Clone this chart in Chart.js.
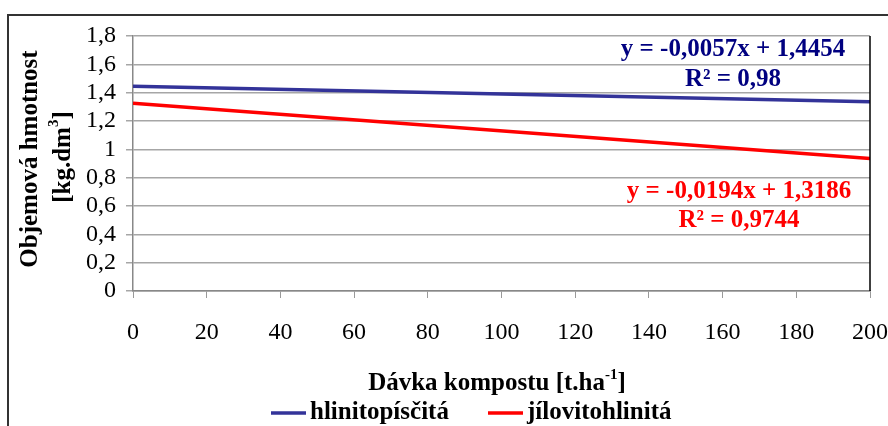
<!DOCTYPE html>
<html>
<head>
<meta charset="utf-8">
<script src="https://cdn.jsdelivr.net/npm/chart.js@4.4.1/dist/chart.umd.min.js"></script>
<style>
html,body{margin:0;padding:0;background:#fff;}
#wrap{position:relative;width:888px;height:426px;}
canvas{display:block;}
</style>
</head>
<body>
<div id="wrap"><canvas id="c" width="888" height="426"></canvas></div>
<script>
// Data
const doses = [0, 200];
const sandyLoam = [1.445, 1.335];
const clayLoam = [1.325, 0.935];
const seriesNames = ['hlinitopísčitá', 'jílovitohlinitá'];
const eqBlue = ['y = -0,0057x + 1,4454', 'R² = 0,98'];
const eqRed = ['y = -0,0194x + 1,3186', 'R² = 0,9744'];
const xTicks = [0, 20, 40, 60, 80, 100, 120, 140, 160, 180, 200];
const yTicks = [0, 0.2, 0.4, 0.6, 0.8, 1, 1.2, 1.4, 1.6, 1.8];

const BLUE = '#333399', BLUE_TXT = '#000080', RED = '#ff0000';
const SERIF = '"Liberation Serif", "Times New Roman", serif';
const BIG = 25, SUP = 15;

function fmt(v){ return String(Number(v.toFixed(1))).replace('.', ','); }

const decor = {
  id: 'decor',
  afterDraw(chart){
    const ctx = chart.ctx, a = chart.chartArea;
    ctx.save();
    // outer frame
    ctx.strokeStyle = '#333';
    ctx.lineWidth = 2;
    ctx.beginPath();
    ctx.moveTo(8, 430); ctx.lineTo(8, 15); ctx.lineTo(892, 15);
    ctx.stroke();
    // plot right border
    ctx.strokeStyle = '#000';
    ctx.lineWidth = 1.5;
    ctx.beginPath();
    ctx.moveTo(a.right, a.top); ctx.lineTo(a.right, a.bottom);
    ctx.stroke();

    // equations
    ctx.textAlign = 'center';
    ctx.textBaseline = 'middle';
    ctx.font = 'bold ' + BIG + 'px ' + SERIF;
    ctx.fillStyle = BLUE_TXT;
    ctx.fillText(eqBlue[0], 733, 50);
    ctx.fillText(eqBlue[1], 733, 80);
    ctx.fillStyle = RED;
    ctx.fillText(eqRed[0], 739, 192);
    ctx.fillText(eqRed[1], 739, 221);

    // x axis title with superscript
    ctx.fillStyle = '#000';
    ctx.font = 'bold ' + BIG + 'px ' + SERIF;
    const t1 = 'Dávka kompostu [t.ha', sup = '-1', t2 = ']';
    const w1 = ctx.measureText(t1).width, w3 = ctx.measureText(t2).width;
    ctx.font = 'bold ' + SUP + 'px ' + SERIF;
    const w2 = ctx.measureText(sup).width;
    const total = w1 + w2 + w3;
    let x0 = 497 - total / 2;
    ctx.textAlign = 'left';
    ctx.textBaseline = 'alphabetic';
    ctx.font = 'bold ' + BIG + 'px ' + SERIF;
    ctx.fillText(t1, x0, 390);
    ctx.font = 'bold ' + SUP + 'px ' + SERIF;
    ctx.fillText(sup, x0 + w1, 379);
    ctx.font = 'bold ' + BIG + 'px ' + SERIF;
    ctx.fillText(t2, x0 + w1 + w2, 390);

    // y axis title (rotated)
    ctx.save();
    ctx.translate(31, 159);
    ctx.rotate(-Math.PI / 2);
    ctx.textAlign = 'center';
    ctx.textBaseline = 'middle';
    ctx.font = 'bold ' + BIG + 'px ' + SERIF;
    ctx.fillText('Objemová hmotnost', 0, 0);
    ctx.restore();
    ctx.save();
    ctx.translate(64, 157);
    ctx.rotate(-Math.PI / 2);
    ctx.font = 'bold ' + BIG + 'px ' + SERIF;
    const u1 = '[kg.dm', u2 = '3', u3 = ']';
    const v1 = ctx.measureText(u1).width, v3 = ctx.measureText(u3).width;
    ctx.font = 'bold ' + SUP + 'px ' + SERIF;
    const v2 = ctx.measureText(u2).width;
    let s = -(v1 + v2 + v3) / 2;
    ctx.textAlign = 'left';
    ctx.textBaseline = 'middle';
    ctx.font = 'bold ' + BIG + 'px ' + SERIF;
    ctx.fillText(u1, s, 0);
    ctx.font = 'bold ' + SUP + 'px ' + SERIF;
    ctx.fillText(u2, s + v1, -10);
    ctx.font = 'bold ' + BIG + 'px ' + SERIF;
    ctx.fillText(u3, s + v1 + v2, 0);
    ctx.restore();

    // legend
    const ly = 413;
    ctx.lineWidth = 3.5;
    ctx.strokeStyle = BLUE;
    ctx.beginPath(); ctx.moveTo(271, ly); ctx.lineTo(306, ly); ctx.stroke();
    ctx.strokeStyle = RED;
    ctx.beginPath(); ctx.moveTo(488, ly); ctx.lineTo(523, ly); ctx.stroke();
    ctx.fillStyle = '#000';
    ctx.font = 'bold ' + BIG + 'px ' + SERIF;
    ctx.textAlign = 'left';
    ctx.textBaseline = 'middle';
    ctx.fillText(seriesNames[0], 310, ly);
    ctx.fillText(seriesNames[1], 527, ly);
    ctx.restore();
  }
};

new Chart(document.getElementById('c'), {
  type: 'line',
  data: {
    datasets: [
      { label: seriesNames[0], data: doses.map((d, i) => ({x: d, y: sandyLoam[i]})),
        borderColor: BLUE, borderWidth: 3.5, pointRadius: 0, fill: false, tension: 0 },
      { label: seriesNames[1], data: doses.map((d, i) => ({x: d, y: clayLoam[i]})),
        borderColor: RED, borderWidth: 3.5, pointRadius: 0, fill: false, tension: 0 }
    ]
  },
  options: {
    responsive: false,
    animation: false,
    devicePixelRatio: 1,
    layout: { padding: { left: 0, top: 36, right: 18, bottom: 0 } },
    plugins: { legend: { display: false }, tooltip: { enabled: false } },
    scales: {
      x: {
        type: 'linear', min: xTicks[0], max: xTicks[xTicks.length - 1],
        afterBuildTicks: s => { s.ticks = xTicks.map(v => ({value: v})); },
        afterFit: s => { s.height = 135; s.paddingLeft = 0; s.paddingRight = 0; },
        grid: { drawOnChartArea: false, drawTicks: true, tickLength: 7, color: '#999' },
        border: { color: '#888', width: 1.5 },
        ticks: { color: '#000', font: { family: SERIF, size: 24 }, padding: 20, maxRotation: 0,
                 autoSkip: false, callback: v => String(v) }
      },
      y: {
        type: 'linear', min: yTicks[0], max: yTicks[yTicks.length - 1],
        afterBuildTicks: s => { s.ticks = yTicks.map(v => ({value: v})); },
        afterFit: s => { s.width = 133; s.paddingTop = 0; s.paddingBottom = 0; },
        grid: { color: '#a6a6a6', lineWidth: 1.5, drawTicks: true, tickLength: 7 },
        border: { color: '#888', width: 1.5 },
        ticks: { color: '#000', font: { family: SERIF, size: 24 }, padding: 10,
                 autoSkip: false, callback: v => fmt(v) }
      }
    }
  },
  plugins: [decor]
});
</script>
</body>
</html>
